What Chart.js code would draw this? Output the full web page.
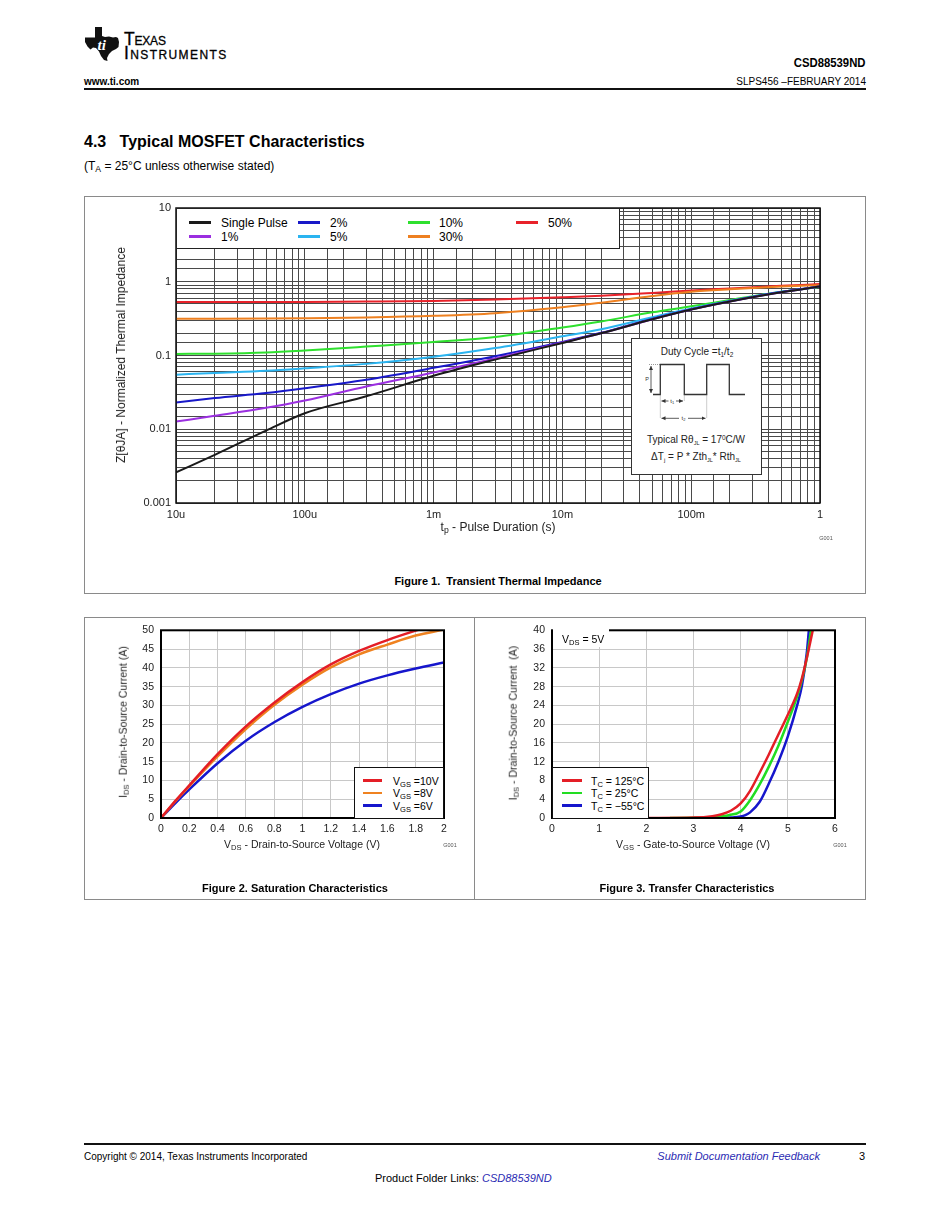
<!DOCTYPE html>
<html>
<head>
<meta charset="utf-8">
<script src="https://cdn.jsdelivr.net/npm/chart.js@4.4.1/dist/chart.umd.min.js"></script>
<style>
  body { margin:0; background:#fff; font-family:"Liberation Sans", Arial, Helvetica, sans-serif; color:#000; }
  #page { position:relative; width:950px; height:1230px; overflow:hidden; background:#fff; }
  .abs { position:absolute; white-space:nowrap; line-height:1; }
  .sub { font-size:72%; vertical-align:-0.28em; line-height:0; }
  .frame { position:absolute; border:1px solid #8a8a8a; box-sizing:border-box; }
  canvas { position:absolute; }
  .lg { position:absolute; background:#fff; box-sizing:border-box; }
  .lgline { position:absolute; height:2.5px; }
  .lgtxt { position:absolute; white-space:nowrap; line-height:1; transform:translateY(-50%); }
  .rot { position:absolute; white-space:nowrap; line-height:1; transform:translate(-50%,-50%) rotate(-90deg); }
  .ctr { position:absolute; white-space:nowrap; line-height:1; transform:translate(-50%,-50%); }
  .link { color:#2b2bb3; font-style:italic; }
</style>
</head>
<body>
<div id="page">

  <!-- header -->
  <svg class="abs" style="left:85px;top:27px" width="34" height="34" viewBox="0 0 34 34">
    <path d="M10 0 H17 V9 L20 10 L24 9.5 L28 10.5 L31 10 L33 11 L34 15 L33.5 20 L31 22 L27 24 L24 27 L22 31 L22.5 34 L19 33 L16 29 L14 24.5 L11 21 L8 20.5 L5.5 22.5 L2.5 19.5 L0 15 L0 10.5 L10 10.5 Z" fill="#111"/>
    <text x="12.5" y="23" font-family="Liberation Serif, serif" font-style="italic" font-weight="bold" font-size="15" fill="#fff">ti</text>
  </svg>
  <div class="abs" style="left:124px;top:31px;font-size:17.5px;font-variant:small-caps;letter-spacing:-0.2px;-webkit-text-stroke:0.3px #000;">Texas</div>
  <div class="abs" style="left:124px;top:45px;font-size:17.5px;font-variant:small-caps;letter-spacing:1.4px;-webkit-text-stroke:0.3px #000;">Instruments</div>
  <div class="abs" style="right:84px;top:56px;font-size:13.5px;font-weight:bold;transform:scaleX(0.84);transform-origin:right center;">CSD88539ND</div>
  <div class="abs" style="left:84px;top:77px;font-size:10px;font-weight:bold;">www.ti.com</div>
  <div class="abs" style="right:84px;top:77px;font-size:10px;">SLPS456 –FEBRUARY 2014</div>
  <div class="abs" style="left:84px;top:88px;width:782px;height:2px;background:#111;"></div>

  <div class="abs" style="left:84px;top:134px;font-size:16px;font-weight:bold;">4.3&nbsp;&nbsp;&nbsp;Typical MOSFET Characteristics</div>
  <div class="abs" style="left:84px;top:160px;font-size:12px;">(T<span class="sub">A</span> = 25°C unless otherwise stated)</div>

  <!-- frames -->
  <div class="frame" style="left:84px;top:196px;width:782px;height:398px;"></div>
  <div class="frame" style="left:84px;top:617px;width:782px;height:283px;"></div>
  <div class="abs" style="left:474px;top:617px;width:1px;height:283px;background:#8a8a8a;"></div>

  <!-- Figure 1 -->
  <canvas id="fig1" width="782" height="340" style="left:84px;top:196px;width:782px;height:340px;"></canvas>
  <div class="rot" style="left:121px;top:355px;font-size:12px;color:#222;">Z[θJA] - Normalized Thermal Impedance</div>
  <div class="ctr" style="left:498px;top:527px;font-size:12px;color:#222;">t<span class="sub">p</span> - Pulse Duration (s)</div>
  <div class="ctr" style="left:826px;top:539px;font-size:5.5px;color:#555;">G001</div>
  <div class="ctr" style="left:498px;top:581px;font-size:11px;font-weight:bold;">Figure 1.&nbsp; Transient Thermal Impedance</div>

  <div class="lg" style="left:176px;top:208px;width:444px;height:41px;border:1px solid #222;">
    <div class="lgline" style="left:12px;top:12px;width:22px;background:#1a1a1a;"></div>
    <div class="lgtxt" style="left:44px;top:14px;font-size:12px;">Single Pulse</div>
    <div class="lgline" style="left:12px;top:26px;width:22px;background:#9b2fe0;"></div>
    <div class="lgtxt" style="left:44px;top:28px;font-size:12px;">1%</div>
    <div class="lgline" style="left:121px;top:12px;width:22px;background:#1818c8;"></div>
    <div class="lgtxt" style="left:153px;top:14px;font-size:12px;">2%</div>
    <div class="lgline" style="left:121px;top:26px;width:22px;background:#2ab4f0;"></div>
    <div class="lgtxt" style="left:153px;top:28px;font-size:12px;">5%</div>
    <div class="lgline" style="left:231px;top:12px;width:22px;background:#2ee02e;"></div>
    <div class="lgtxt" style="left:262px;top:14px;font-size:12px;">10%</div>
    <div class="lgline" style="left:231px;top:26px;width:22px;background:#ee8020;"></div>
    <div class="lgtxt" style="left:262px;top:28px;font-size:12px;">30%</div>
    <div class="lgline" style="left:339px;top:12px;width:22px;background:#e8222a;"></div>
    <div class="lgtxt" style="left:371px;top:14px;font-size:12px;">50%</div>
  </div>

  <div class="lg" style="left:631px;top:338px;width:131px;height:137px;border:1px solid #333;">
    <svg width="129" height="135" viewBox="0 0 129 135" style="position:absolute;left:0;top:0">
      <defs>
        <marker id="ah" markerWidth="6" markerHeight="6" refX="5" refY="3" orient="auto-start-reverse">
          <path d="M0,0.5 L5,3 L0,5.5 Z" fill="#333"/>
        </marker>
      </defs>
      <text x="65" y="16" text-anchor="middle" font-family="Liberation Sans, Arial" font-size="10" fill="#222">Duty Cycle =t<tspan font-size="6.5" dy="2">1</tspan><tspan dy="-2">/t</tspan><tspan font-size="6.5" dy="2">2</tspan></text>
      <polyline points="21,55.5 28.3,55.5 28.3,25.5 52.3,25.5 52.3,55.5 74.7,55.5 74.7,25.5 97.3,25.5 97.3,55.5 113,55.5" fill="none" stroke="#333" stroke-width="1.3"/>
      <line x1="19" y1="27" x2="19" y2="54" stroke="#333" stroke-width="0.8" marker-start="url(#ah)" marker-end="url(#ah)"/>
      <line x1="17" y1="25.5" x2="28" y2="25.5" stroke="#555" stroke-width="0.6" stroke-dasharray="1,1"/>
      <text x="15" y="42" text-anchor="middle" font-family="Liberation Sans, Arial" font-size="5.5" fill="#333">P</text>
      <line x1="28.3" y1="55.5" x2="28.3" y2="79.3" stroke="#555" stroke-width="0.6" stroke-dasharray="1,1"/>
      <line x1="52.3" y1="55.5" x2="52.3" y2="62" stroke="#555" stroke-width="0.6" stroke-dasharray="1,1"/>
      <line x1="74.7" y1="55.5" x2="74.7" y2="79.3" stroke="#555" stroke-width="0.6" stroke-dasharray="1,1"/>
      <line x1="29.5" y1="62" x2="36.5" y2="62" stroke="#333" stroke-width="0.8" marker-start="url(#ah)"/>
      <line x1="44" y1="62" x2="51" y2="62" stroke="#333" stroke-width="0.8" marker-end="url(#ah)"/>
      <text x="40.3" y="64" text-anchor="middle" font-family="Liberation Sans, Arial" font-size="6" fill="#333">t<tspan font-size="4" dy="1">1</tspan></text>
      <line x1="29.5" y1="79.3" x2="47" y2="79.3" stroke="#333" stroke-width="0.8" marker-start="url(#ah)"/>
      <line x1="56" y1="79.3" x2="73.5" y2="79.3" stroke="#333" stroke-width="0.8" marker-end="url(#ah)"/>
      <text x="51.5" y="81.3" text-anchor="middle" font-family="Liberation Sans, Arial" font-size="6" fill="#333">t<tspan font-size="4" dy="1">2</tspan></text>
      <text x="64" y="104" text-anchor="middle" font-family="Liberation Sans, Arial" font-size="10" fill="#222">Typical Rθ<tspan font-size="5.5" dy="2">JL</tspan><tspan dy="-2"> = 17</tspan><tspan font-size="6.5" dy="-3">0</tspan><tspan dy="3">C/W</tspan></text>
      <text x="64" y="121" text-anchor="middle" font-family="Liberation Sans, Arial" font-size="10" fill="#222">ΔT<tspan font-size="6" dy="2">j</tspan><tspan dy="-2"> = P * Zth</tspan><tspan font-size="5.5" dy="2">JL</tspan><tspan dy="-2">* Rth</tspan><tspan font-size="5.5" dy="2">JL</tspan></text>
    </svg>
  </div>

  <!-- Figure 2 -->
  <canvas id="fig2" width="390" height="230" style="left:84px;top:617px;width:390px;height:230px;"></canvas>
  <div class="rot" style="left:123px;top:722px;font-size:10.5px;color:#222;">I<span class="sub">DS</span> - Drain-to-Source Current (A)</div>
  <div class="ctr" style="left:302px;top:844px;font-size:10.5px;color:#222;">V<span class="sub">DS</span> - Drain-to-Source Voltage (V)</div>
  <div class="ctr" style="left:450px;top:846px;font-size:5.5px;color:#555;">G001</div>
  <div class="ctr" style="left:295px;top:888px;font-size:11px;font-weight:bold;">Figure 2. Saturation Characteristics</div>
  <div class="lg" style="left:354px;top:767px;width:90px;height:52px;border:1.5px solid #111;">
    <div class="lgline" style="left:8px;top:11px;width:19px;background:#e41e26;"></div>
    <div class="lgtxt" style="left:38px;top:12.5px;font-size:10.5px;">V<span class="sub">GS</span> =10V</div>
    <div class="lgline" style="left:8px;top:23.5px;width:19px;background:#ef8220;"></div>
    <div class="lgtxt" style="left:38px;top:25px;font-size:10.5px;">V<span class="sub">GS</span> =8V</div>
    <div class="lgline" style="left:8px;top:36px;width:19px;background:#1616cc;"></div>
    <div class="lgtxt" style="left:38px;top:37.5px;font-size:10.5px;">V<span class="sub">GS</span> =6V</div>
  </div>

  <!-- Figure 3 -->
  <canvas id="fig3" width="392" height="230" style="left:474px;top:617px;width:392px;height:230px;"></canvas>
  <div class="rot" style="left:513px;top:723px;font-size:10.5px;color:#222;">I<span class="sub">DS</span> - Drain-to-Source Current&nbsp; (A)</div>
  <div class="ctr" style="left:693px;top:844px;font-size:10.5px;color:#222;">V<span class="sub">GS</span> - Gate-to-Source Voltage (V)</div>
  <div class="ctr" style="left:840px;top:846px;font-size:5.5px;color:#555;">G001</div>
  <div class="ctr" style="left:687px;top:888px;font-size:11px;font-weight:bold;">Figure 3. Transfer Characteristics</div>
  <div class="lg" style="left:553px;top:628px;width:56px;height:19px;">
    <div class="lgtxt" style="left:9px;top:11px;font-size:10.5px;">V<span class="sub">DS</span> = 5V</div>
  </div>
  <div class="lg" style="left:552px;top:767px;width:97px;height:52px;border:1.5px solid #111;">
    <div class="lgline" style="left:9px;top:11px;width:20px;background:#e41e26;"></div>
    <div class="lgtxt" style="left:38px;top:12.5px;font-size:10.5px;">T<span class="sub">C</span> = 125°C</div>
    <div class="lgline" style="left:9px;top:23.5px;width:20px;background:#22dd22;"></div>
    <div class="lgtxt" style="left:38px;top:25px;font-size:10.5px;">T<span class="sub">C</span> = 25°C</div>
    <div class="lgline" style="left:9px;top:36px;width:20px;background:#1616cc;"></div>
    <div class="lgtxt" style="left:38px;top:37.5px;font-size:10.5px;">T<span class="sub">C</span> = −55°C</div>
  </div>

  <!-- footer -->
  <div class="abs" style="left:84px;top:1143px;width:782px;height:2px;background:#111;"></div>
  <div class="abs" style="left:84px;top:1152px;font-size:10px;">Copyright © 2014, Texas Instruments Incorporated</div>
  <div class="abs link" style="right:130px;top:1151px;font-size:11px;">Submit Documentation Feedback</div>
  <div class="abs" style="left:859px;top:1151px;font-size:11px;">3</div>
  <div class="abs" style="left:375px;top:1173px;font-size:11px;">Product Folder Links: <span class="link">CSD88539ND</span></div>
</div>

<script>
// ---------- Figure 1 data: transient thermal impedance ----------
const fig1Times = [1e-5, 2e-5, 5e-5, 1e-4, 3e-4, 1e-3, 3e-3, 1e-2, 2e-2, 5e-2, 1e-1, 2e-1, 5e-1, 1];
const zSinglePulse = [0.0026, 0.0045, 0.0096, 0.0165, 0.028, 0.053, 0.088, 0.148, 0.2, 0.31, 0.42, 0.54, 0.72, 0.86];
const zDuty1  = [0.0127, 0.0152, 0.0195, 0.0245, 0.038, 0.059, 0.091, 0.15, 0.2, 0.31, 0.42, 0.54, 0.72, 0.86];
const zDuty2  = [0.023, 0.0265, 0.031, 0.036, 0.047, 0.068, 0.098, 0.153, 0.203, 0.315, 0.425, 0.545, 0.725, 0.86];
const zDuty5  = [0.055, 0.058, 0.062, 0.067, 0.077, 0.096, 0.126, 0.182, 0.227, 0.33, 0.435, 0.55, 0.73, 0.855];
const zDuty10 = [0.105, 0.106, 0.11, 0.117, 0.132, 0.152, 0.178, 0.24, 0.29, 0.385, 0.465, 0.565, 0.73, 0.85];
const zDuty30 = [0.315, 0.315, 0.317, 0.32, 0.328, 0.345, 0.375, 0.45, 0.52, 0.64, 0.73, 0.79, 0.86, 0.9];
const zDuty50 = [0.53, 0.53, 0.53, 0.532, 0.538, 0.55, 0.575, 0.615, 0.645, 0.705, 0.76, 0.81, 0.88, 0.93];
const fig1XTickValues = [1e-5, 1e-4, 1e-3, 1e-2, 1e-1, 1];
const fig1XTickLabels = ['10u', '100u', '1m', '10m', '100m', '1'];
const fig1YTickValues = [0.001, 0.01, 0.1, 1, 10];
const fig1YTickLabels = ['0.001', '0.01', '0.1', '1', '10'];

// ---------- Figure 2 data: saturation characteristics ----------
const vdsValues = [0, 0.1, 0.2, 0.4, 0.6, 0.8, 1.0, 1.2, 1.4, 1.6, 1.8, 2.0];
const idsVgs10 = [0, 4.5, 8.7, 17.0, 24.4, 30.7, 36.2, 40.9, 44.5, 47.4, 49.9, 52.2];
const idsVgs8  = [0, 4.4, 8.5, 16.4, 23.7, 30.1, 35.5, 40.1, 43.6, 46.2, 48.6, 50.2];
const idsVgs6  = [0, 3.9, 7.6, 14.6, 20.6, 25.5, 29.6, 33.0, 35.8, 38.0, 39.8, 41.4];

// ---------- Figure 3 data: transfer characteristics ----------
const vgs125 = [2.0, 3.0, 3.4, 3.6, 3.8, 4.0, 4.2, 4.4, 4.6, 4.8, 5.0, 5.2, 5.3, 5.4, 5.55];
const ids125 = [0, 0.1, 0.4, 0.8, 1.6, 3.1, 5.8, 9.6, 13.6, 17.8, 22.0, 26.6, 29.8, 34.0, 41.0];
const vgs25  = [2.5, 3.0, 3.5, 3.75, 4.0, 4.2, 4.4, 4.6, 4.8, 5.0, 5.2, 5.3, 5.4, 5.5];
const ids25  = [0, 0.05, 0.2, 0.6, 1.4, 3.8, 7.1, 11.0, 15.4, 20.5, 26.0, 29.5, 34.0, 40.5];
const vgsM55 = [3.0, 3.5, 3.8, 4.0, 4.1, 4.2, 4.4, 4.6, 4.8, 5.0, 5.2, 5.3, 5.4, 5.45];
const idsM55 = [0, 0.02, 0.1, 0.3, 0.6, 1.2, 3.4, 7.4, 12.0, 17.4, 24.1, 28.3, 35.0, 40.5];

Chart.defaults.font.family = '"Liberation Sans", Arial, Helvetica, sans-serif';
Chart.defaults.color = '#222';

const plotFrame = {
  id: 'plotFrame',
  afterDraw(chart, args, opts) {
    const a = chart.chartArea, ctx = chart.ctx;
    ctx.save();
    ctx.strokeStyle = opts.color || '#000';
    ctx.lineWidth = opts.width || 1.5;
    ctx.strokeRect(a.left, a.top, a.right - a.left, a.bottom - a.top);
    ctx.restore();
  }
};

function pts(xs, ys) { return xs.map((x, i) => ({ x: x, y: ys[i] })); }
function series(label, xs, ys, color, width, tension) {
  return { label, data: pts(xs, ys), borderColor: color, backgroundColor: color,
           borderWidth: width, pointRadius: 0, fill: false,
           cubicInterpolationMode: 'monotone', tension: tension };
}
function logLabel(values, labels) {
  return function (v) {
    const lv = Math.log10(v);
    const i = values.findIndex(t => Math.abs(Math.log10(t) - lv) < 1e-6);
    return i >= 0 ? labels[i] : '';
  };
}

const basePlugins = { legend: { display: false }, tooltip: { enabled: false } };

// Figure 1
new Chart(document.getElementById('fig1'), {
  type: 'line',
  data: { datasets: [
    series('Single Pulse', fig1Times, zSinglePulse, '#1a1a1a', 2, 0),
    series('1%', fig1Times, zDuty1, '#9b2fe0', 2, 0),
    series('2%', fig1Times, zDuty2, '#1818c8', 2, 0),
    series('5%', fig1Times, zDuty5, '#2ab4f0', 2, 0),
    series('10%', fig1Times, zDuty10, '#2ee02e', 2, 0),
    series('30%', fig1Times, zDuty30, '#ee8020', 2, 0),
    series('50%', fig1Times, zDuty50, '#e8222a', 2, 0)
  ]},
  options: {
    responsive: false, animation: false, devicePixelRatio: 1,
    layout: { padding: { left: 0, top: 12, right: 46, bottom: 0 } },
    plugins: Object.assign({ plotFrame: { width: 1.5, color: '#111' } }, basePlugins),
    scales: {
      x: { type: 'logarithmic', min: 1e-5, max: 1,
           grid: { color: '#4a4a4a', lineWidth: 1, drawTicks: false },
           border: { display: false },
           ticks: { autoSkip: false, maxRotation: 0, padding: 5, font: { size: 11 }, color: '#222',
                    callback: logLabel(fig1XTickValues, fig1XTickLabels) },
           afterFit: s => { s.height = 33; } },
      y: { type: 'logarithmic', min: 0.001, max: 10,
           grid: { color: '#4a4a4a', lineWidth: 1, drawTicks: false },
           border: { display: false },
           ticks: { autoSkip: false, padding: 5, font: { size: 11 }, color: '#222',
                    callback: logLabel(fig1YTickValues, fig1YTickLabels) },
           afterFit: s => { s.width = 92; } }
    }
  },
  plugins: [plotFrame]
});

// Figure 2
new Chart(document.getElementById('fig2'), {
  type: 'line',
  data: { datasets: [
    series('VGS =10V', vdsValues, idsVgs10, '#e41e26', 2.5, 0.4),
    series('VGS =8V', vdsValues, idsVgs8, '#ef8220', 2.5, 0.4),
    series('VGS =6V', vdsValues, idsVgs6, '#1616cc', 2.5, 0.4)
  ]},
  options: {
    responsive: false, animation: false, devicePixelRatio: 1,
    layout: { padding: { left: 0, top: 10, right: 30, bottom: 0 } },
    plugins: Object.assign({ plotFrame: { width: 2, color: '#000' } }, basePlugins),
    scales: {
      x: { type: 'linear', min: 0, max: 2,
           grid: { color: '#c8c8c8', drawTicks: false }, border: { display: false },
           ticks: { stepSize: 0.2, padding: 5, maxRotation: 0, autoSkip: false, font: { size: 10.5 }, color: '#222',
                    callback: v => String(+v.toFixed(1)) },
           afterFit: s => { s.height = 29; } },
      y: { type: 'linear', min: 0, max: 50,
           grid: { color: '#c8c8c8', drawTicks: false }, border: { display: false },
           ticks: { stepSize: 5, padding: 7, autoSkip: false, font: { size: 10.5 }, color: '#222' },
           afterFit: s => { s.width = 77; } }
    }
  },
  plugins: [plotFrame]
});

// Figure 3
new Chart(document.getElementById('fig3'), {
  type: 'line',
  data: { datasets: [
    series('TC = 125°C', vgs125, ids125, '#e41e26', 2.5, 0.4),
    series('TC = 25°C', vgs25, ids25, '#22dd22', 2.5, 0.4),
    series('TC = −55°C', vgsM55, idsM55, '#1616cc', 2.5, 0.4)
  ]},
  options: {
    responsive: false, animation: false, devicePixelRatio: 1,
    layout: { padding: { left: 0, top: 10, right: 31, bottom: 0 } },
    plugins: Object.assign({ plotFrame: { width: 2, color: '#000' } }, basePlugins),
    scales: {
      x: { type: 'linear', min: 0, max: 6,
           grid: { color: '#c8c8c8', drawTicks: false }, border: { display: false },
           ticks: { stepSize: 1, padding: 5, maxRotation: 0, autoSkip: false, font: { size: 10.5 }, color: '#222' },
           afterFit: s => { s.height = 29; } },
      y: { type: 'linear', min: 0, max: 40,
           grid: { color: '#c8c8c8', drawTicks: false }, border: { display: false },
           ticks: { stepSize: 4, padding: 7, autoSkip: false, font: { size: 10.5 }, color: '#222' },
           afterFit: s => { s.width = 78; } }
    }
  },
  plugins: [plotFrame]
});
</script>
</body>
</html>
